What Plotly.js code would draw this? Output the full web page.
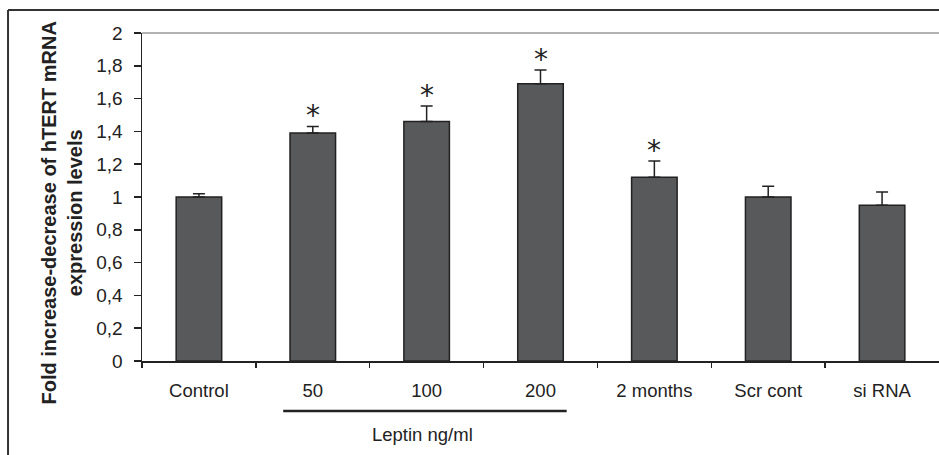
<!DOCTYPE html>
<html>
<head>
<meta charset="utf-8">
<script src="https://cdn.plot.ly/plotly-3.0.1.min.js"></script>
<style>
  html, body { margin: 0; padding: 0; background: #fff; }
  #chart { width: 939px; height: 455px; }
</style>
</head>
<body>
<div id="chart"></div>
<script>
// Data
const categories = ["Control", "50", "100", "200", "2 months", "Scr cont", "si RNA"];
const foldValues = [1.00, 1.39, 1.46, 1.69, 1.12, 1.00, 0.95];
const errorUpper = [0.02, 0.04, 0.095, 0.085, 0.10, 0.065, 0.08];
const significant = [false, true, true, true, true, false, false];
const yTicks = [0, 0.2, 0.4, 0.6, 0.8, 1, 1.2, 1.4, 1.6, 1.8, 2];
const groupLabel = "Leptin ng/ml";
const groupMembers = ["50", "100", "200"];
const yTitleLines = ["Fold increase-decrease of hTERT mRNA", "expression levels"];

const FONT = '"Liberation Sans", Arial, sans-serif';
const TXT = '#222222';

const xIdx = categories.map((c, i) => i);

const barTrace = {
  type: 'bar',
  x: xIdx,
  y: foldValues,
  width: 0.4,
  marker: { color: '#58595b', line: { color: '#222222', width: 1.5 } },
  error_y: {
    type: 'data',
    symmetric: false,
    array: errorUpper,
    arrayminus: errorUpper.map(() => 0),
    color: '#222222',
    thickness: 1.5,
    width: 6
  },
  hoverinfo: 'x+y'
};

const annotations = [];
categories.forEach((c, i) => {
  if (significant[i]) {
    annotations.push({
      x: i, y: foldValues[i] + errorUpper[i], xref: 'x', yref: 'y',
      text: '*', showarrow: false, xanchor: 'center', yanchor: 'bottom',
      yshift: -8,
      font: { family: '"DejaVu Sans", sans-serif', size: 28, color: TXT }
    });
  }
});

// y-axis title (two lines, bold, rotated)
annotations.push({
  xref: 'paper', yref: 'paper', x: -0.1004, y: 0.4527,
  xanchor: 'center', yanchor: 'middle', textangle: -90,
  showarrow: false, align: 'center',
  text: '<b>' + yTitleLines.join('<br>') + '</b>',
  font: { family: FONT, size: 20, color: TXT }
});

// group label under leptin concentrations
const gFirst = categories.indexOf(groupMembers[0]);
const gLast = categories.indexOf(groupMembers[groupMembers.length - 1]);
annotations.push({
  xref: 'x', yref: 'paper', x: (gFirst + gLast) / 2 - 0.04, y: -0.2256,
  xanchor: 'center', yanchor: 'middle', showarrow: false,
  text: groupLabel,
  font: { family: FONT, size: 18.5, color: TXT }
});

const shapes = [
  // plot area top border (gray)
  { type: 'line', xref: 'paper', yref: 'paper', x0: 0, x1: 1.01, y0: 1, y1: 1,
    line: { color: '#999999', width: 1.5 } },
  // outer figure frame (top + left)
  { type: 'line', xref: 'paper', yref: 'paper', x0: -0.1681, x1: 1.01, y0: 1.0701, y1: 1.0701,
    line: { color: '#333333', width: 2 } },
  { type: 'line', xref: 'paper', yref: 'paper', x0: -0.1681, x1: -0.1681, y0: 1.0701, y1: -0.30,
    line: { color: '#333333', width: 2 } },
  // bracket line under the leptin group
  { type: 'line', xref: 'x', yref: 'paper', x0: gFirst - 0.26, x1: gLast + 0.23, y0: -0.1524, y1: -0.1524,
    line: { color: '#222222', width: 2.5 } }
];

const layout = {
  width: 939, height: 455,
  margin: { l: 142, r: 0, t: 33, b: 94, pad: 0 },
  paper_bgcolor: '#ffffff', plot_bgcolor: '#ffffff',
  separators: ',.',
  showlegend: false,
  font: { family: FONT, color: TXT, size: 18 },
  xaxis: {
    range: [-0.5, categories.length - 0.5],
    tickmode: 'array', tickvals: xIdx, ticktext: categories,
    showgrid: false, zeroline: false,
    showline: true, linecolor: '#222222', linewidth: 1.5,
    ticks: '', ticklabelstandoff: 12,
    tickfont: { family: FONT, size: 18.5, color: TXT },
    fixedrange: true
  },
  // second x axis only carries the tick marks on category boundaries
  xaxis2: {
    overlaying: 'x', anchor: 'y', side: 'bottom',
    range: [-0.5, categories.length - 0.5],
    tickmode: 'array',
    tickvals: [-0.5].concat(categories.slice(0, -1).map((c, i) => i + 0.5)),
    ticktext: [''].concat(categories.slice(0, -1).map(() => '')),
    ticks: 'outside', ticklen: 6, tickwidth: 1.5, tickcolor: '#222222',
    showgrid: false, zeroline: false, showline: false,
    fixedrange: true
  },
  yaxis: {
    range: [0, 2],
    tickmode: 'array', tickvals: yTicks,
    showgrid: false, zeroline: false,
    showline: true, linecolor: '#222222', linewidth: 1.5,
    ticks: 'outside', ticklen: 7, tickwidth: 1.5, tickcolor: '#222222',
    ticklabelstandoff: 7,
    tickfont: { family: FONT, size: 19, color: TXT },
    fixedrange: true
  },
  annotations: annotations,
  shapes: shapes
};

const tickHolder = { type: 'scatter', x: [], y: [], xaxis: 'x2', yaxis: 'y', hoverinfo: 'skip', showlegend: false };

Plotly.newPlot('chart', [barTrace, tickHolder], layout, { staticPlot: true });
</script>
</body>
</html>
